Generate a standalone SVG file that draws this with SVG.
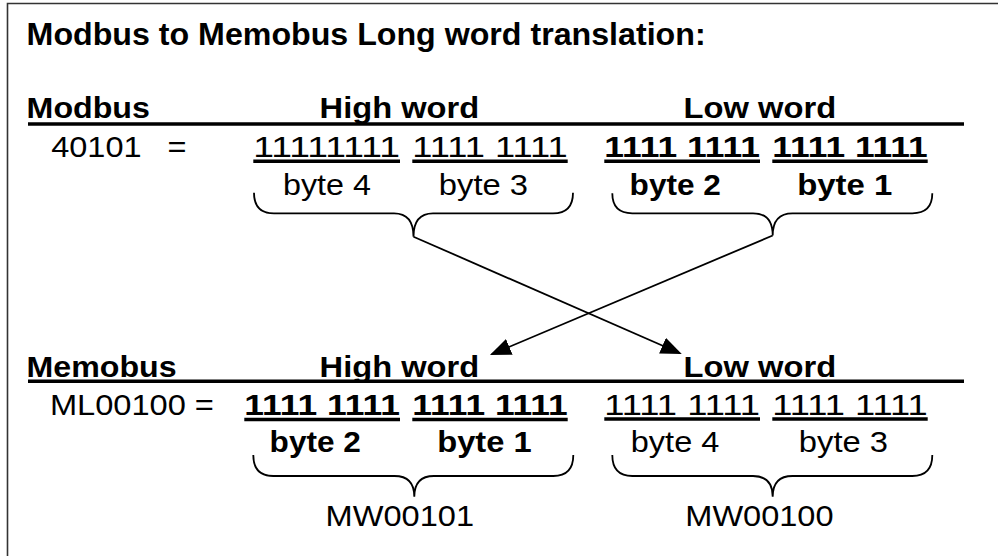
<svg xmlns="http://www.w3.org/2000/svg" width="998" height="556" viewBox="0 0 998 556">
  <defs>
    <style>
      text { font-family: "Liberation Sans", Arial, Helvetica, sans-serif; font-size: 30px; fill: #000; }
      .b { font-weight: bold; }
      .title { font-size: 31px; font-weight: bold; }
      .rule { stroke: #000; stroke-width: 3.6; fill: none; }
      .ul { stroke: #000; stroke-width: 3.4; fill: none; }
      .brace { stroke: #000; stroke-width: 1.8; fill: none; }
      .conn { stroke: #000; stroke-width: 1.8; fill: none; }
      .frame { stroke: #333; stroke-width: 1.6; fill: none; }
    </style>
    <marker id="arrow" markerUnits="userSpaceOnUse" markerWidth="22" markerHeight="18" refX="19" refY="8.5" orient="auto">
      <path d="M0,0 L21,8.5 L0,17 Z" fill="#000"/>
    </marker>
  </defs>

  <rect width="998" height="556" fill="#fff"/>
  <path class="frame" d="M7.5,556 V3.5 H998"/>

  <g id="title">
    <text class="title" x="26.6" y="45" textLength="679" lengthAdjust="spacingAndGlyphs">Modbus to Memobus Long word translation:</text>
  </g>

  <!-- Modbus register -->
  <g id="modbus-header">
    <text class="b" x="26.6" y="118" textLength="123.3" lengthAdjust="spacingAndGlyphs">Modbus</text>
    <text class="b" x="319.6" y="118" textLength="159.5" lengthAdjust="spacingAndGlyphs">High word</text>
    <text class="b" x="683.6" y="118" textLength="152.6" lengthAdjust="spacingAndGlyphs">Low word</text>
    <line class="rule" x1="28" y1="124" x2="964" y2="124"/>
  </g>

  <g id="modbus-address">
    <text x="51.2" y="156.7" textLength="90.4" lengthAdjust="spacingAndGlyphs">40101</text>
    <text x="167.4" y="156.7" textLength="19" lengthAdjust="spacingAndGlyphs">=</text>
  </g>

  <g id="modbus-high-word">
    <text x="253.3" y="156.7" textLength="146.7" lengthAdjust="spacingAndGlyphs">11111111</text>
    <line class="ul" x1="253.3" y1="161.3" x2="400" y2="161.3"/>
    <text x="412.3" y="156.7" textLength="155.4" lengthAdjust="spacingAndGlyphs">1111 1111</text>
    <line class="ul" x1="412.3" y1="161.3" x2="567.7" y2="161.3"/>
    <text x="283" y="195" textLength="88" lengthAdjust="spacingAndGlyphs">byte 4</text>
    <text x="438.8" y="195" textLength="89.2" lengthAdjust="spacingAndGlyphs">byte 3</text>
    <path class="brace" d="M254,192.7 Q254,213.3 274,213.3 L394,213.3 Q413.5,213.3 413.5,236.7 Q413.5,213.3 433,213.3 L553,213.3 Q573,213.3 573,192.7"/>
  </g>

  <g id="modbus-low-word">
    <text class="b" x="604.3" y="156.7" textLength="155.7" lengthAdjust="spacingAndGlyphs">1111 1111</text>
    <line class="ul" x1="604.3" y1="161.3" x2="760" y2="161.3"/>
    <text class="b" x="772.3" y="156.7" textLength="155.4" lengthAdjust="spacingAndGlyphs">1111 1111</text>
    <line class="ul" x1="772.3" y1="161.3" x2="927.7" y2="161.3"/>
    <text class="b" x="629.6" y="195" textLength="91.3" lengthAdjust="spacingAndGlyphs">byte 2</text>
    <text class="b" x="797.2" y="195" textLength="95.2" lengthAdjust="spacingAndGlyphs">byte 1</text>
    <path class="brace" d="M612.3,193.3 Q612.3,213.3 632.3,213.3 L753,213.3 Q772.7,213.3 772.7,235.5 Q772.7,213.3 792.5,213.3 L912.3,213.3 Q932.3,213.3 932.3,193.3"/>
  </g>

  <!-- Memobus register -->
  <g id="memobus-header">
    <text class="b" x="26.6" y="376.7" textLength="150" lengthAdjust="spacingAndGlyphs">Memobus</text>
    <text class="b" x="319.6" y="376.7" textLength="159.5" lengthAdjust="spacingAndGlyphs">High word</text>
    <text class="b" x="683.6" y="376.7" textLength="152.6" lengthAdjust="spacingAndGlyphs">Low word</text>
    <line class="rule" x1="28" y1="381.3" x2="964" y2="381.3"/>
  </g>

  <g id="memobus-address">
    <text x="49.9" y="415" textLength="164" lengthAdjust="spacingAndGlyphs">ML00100 =</text>
  </g>

  <g id="memobus-high-word">
    <text class="b" x="244.3" y="415" textLength="155.7" lengthAdjust="spacingAndGlyphs">1111 1111</text>
    <line class="ul" x1="244.3" y1="419.5" x2="400" y2="419.5"/>
    <text class="b" x="412.3" y="415" textLength="155.4" lengthAdjust="spacingAndGlyphs">1111 1111</text>
    <line class="ul" x1="412.3" y1="419.5" x2="567.7" y2="419.5"/>
    <text class="b" x="269.6" y="452" textLength="91.3" lengthAdjust="spacingAndGlyphs">byte 2</text>
    <text class="b" x="437.2" y="452" textLength="94.5" lengthAdjust="spacingAndGlyphs">byte 1</text>
    <path class="brace" d="M253.3,455 Q253.3,476 273.3,476 L394.5,476 Q414.3,476 414.3,496.7 Q414.3,476 434,476 L553.3,476 Q573.3,476 573.3,455"/>
    <text x="325.6" y="525.5" textLength="148.4" lengthAdjust="spacingAndGlyphs">MW00101</text>
  </g>

  <g id="memobus-low-word">
    <text x="604.3" y="415" textLength="155.7" lengthAdjust="spacingAndGlyphs">1111 1111</text>
    <line class="ul" x1="604.3" y1="419" x2="760" y2="419"/>
    <text x="772.3" y="415" textLength="155.4" lengthAdjust="spacingAndGlyphs">1111 1111</text>
    <line class="ul" x1="772.3" y1="419" x2="927.7" y2="419"/>
    <text x="630.8" y="452" textLength="88.5" lengthAdjust="spacingAndGlyphs">byte 4</text>
    <text x="798.8" y="452" textLength="89.2" lengthAdjust="spacingAndGlyphs">byte 3</text>
    <path class="brace" d="M612.3,455 Q612.3,476 632.3,476 L753,476 Q772.7,476 772.7,496.7 Q772.7,476 792.5,476 L912.3,476 Q932.3,476 932.3,455"/>
    <text x="685.3" y="525.5" textLength="148.2" lengthAdjust="spacingAndGlyphs">MW00100</text>
  </g>

  <!-- word swap connectors -->
  <g id="connectors">
    <line class="conn" x1="413.5" y1="236.7" x2="679.9" y2="353.2" marker-end="url(#arrow)"/>
    <line class="conn" x1="772.7" y1="235.5" x2="491.8" y2="354.2" marker-end="url(#arrow)"/>
  </g>
</svg>
